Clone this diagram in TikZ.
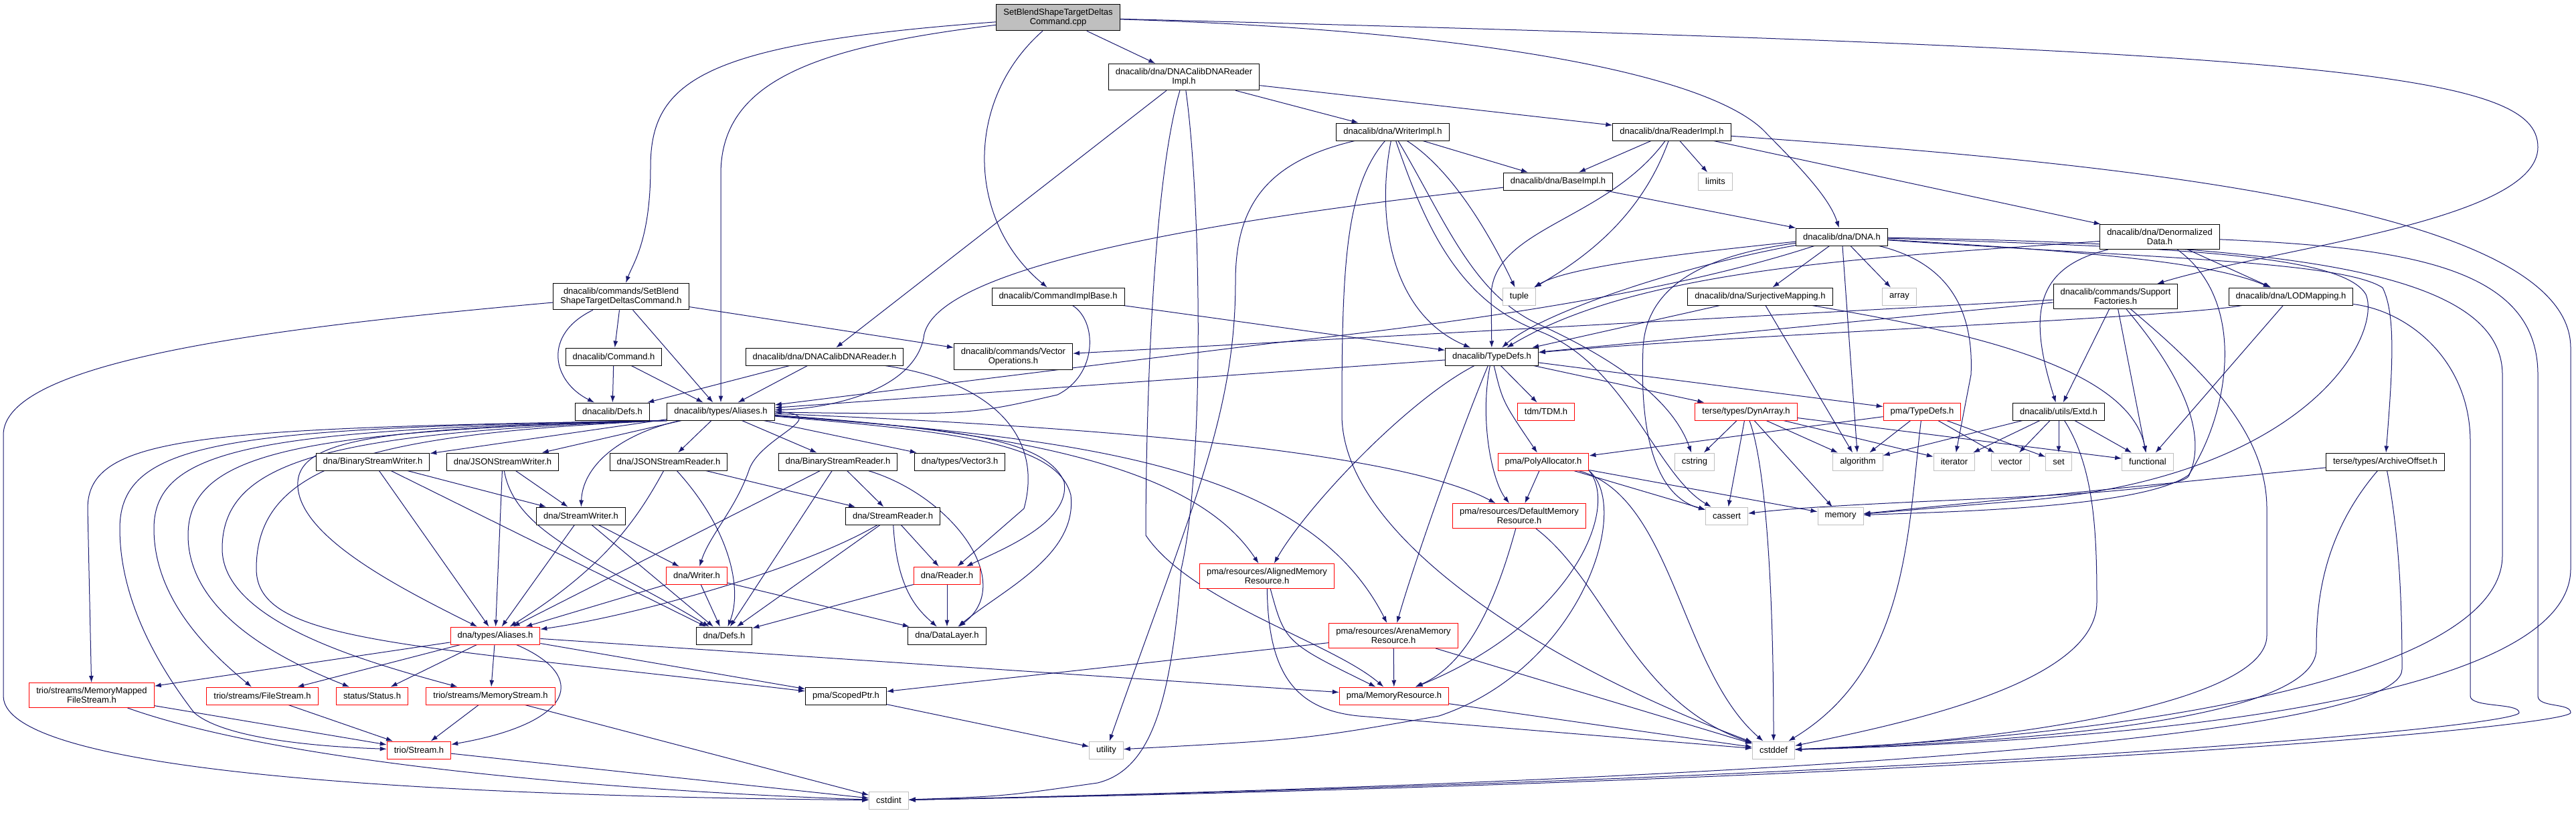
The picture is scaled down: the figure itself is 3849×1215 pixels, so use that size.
\documentclass[tikz,border=0pt]{standalone}
\usepackage{fontspec}
\newfontfamily\doxfont{Liberation Sans}
\usetikzlibrary{arrows.meta,backgrounds}
\definecolor{edgeblue}{HTML}{191970}
\definecolor{sysgray}{HTML}{BFBFBF}
\tikzset{
  hdr/.style={draw=black, fill=white, line width=1pt, font=\doxfont\fontsize{13}{14.5}\selectfont,
    align=center, inner xsep=10.5pt, inner ysep=6.5pt, minimum height=26pt},
  redhdr/.style={hdr, draw=red},
  syshdr/.style={hdr, draw=sysgray},
  roothdr/.style={hdr, fill=sysgray},
  dep/.style={draw=edgeblue, line width=1pt, -{Latex[length=10pt,width=7pt]}}
}
\begin{document}
\begin{tikzpicture}[x=1pt, y=-1pt]
  \useasboundingbox (0,0) rectangle (3849,1215);

  % Top rows
  \node[roothdr] (root) at (1581,26) {SetBlendShapeTargetDeltas\\Command.cpp};
  \node[hdr] (readerimpl) at (1769,115) {dnacalib/dna/DNACalibDNAReader\\Impl.h};
  \node[hdr] (writerimpl) at (2081,197) {dnacalib/dna/WriterImpl.h};
  \node[hdr] (dnareaderimpl) at (2498,197) {dnacalib/dna/ReaderImpl.h};
  \node[hdr] (baseimpl) at (2328,271) {dnacalib/dna/BaseImpl.h};
  \node[syshdr] (limits) at (2563,271) {limits};
  \node[hdr] (dna) at (2752,354) {dnacalib/dna/DNA.h};
  \node[hdr] (denorm) at (3227,354) {dnacalib/dna/Denormalized\\Data.h};

  % dnacalib headers
  \node[hdr] (sbcmdh) at (928,443) {dnacalib/commands/SetBlend\\ShapeTargetDeltasCommand.h};
  \node[hdr] (cmdimpl) at (1581,443) {dnacalib/CommandImplBase.h};
  \node[syshdr] (tuple) at (2270,443) {tuple};
  \node[hdr] (surj) at (2630,443) {dnacalib/dna/SurjectiveMapping.h};
  \node[syshdr] (array) at (2838,443) {array};
  \node[hdr] (support) at (3161,443) {dnacalib/commands/Support\\Factories.h};
  \node[hdr] (lod) at (3423,443) {dnacalib/dna/LODMapping.h};
  \node[hdr] (cmdh) at (917,533) {dnacalib/Command.h};
  \node[hdr] (readerh) at (1232,533) {dnacalib/dna/DNACalibDNAReader.h};
  \node[hdr] (vecops) at (1514,533) {dnacalib/commands/Vector\\Operations.h};
  \node[hdr] (typedefs) at (2229,533) {dnacalib/TypeDefs.h};
  \node[hdr] (cdefs) at (915,615) {dnacalib/Defs.h};
  \node[hdr] (caliases) at (1077,615) {dnacalib/types/Aliases.h};
  \node[redhdr] (tdm) at (2310,615) {tdm/TDM.h};
  \node[redhdr] (dynarr) at (2609,615) {terse/types/DynArray.h};
  \node[redhdr] (pmatd) at (2872,615) {pma/TypeDefs.h};
  \node[hdr] (extd) at (3076,615) {dnacalib/utils/Extd.h};

  % dna headers
  \node[hdr] (bsw) at (557,690) {dna/BinaryStreamWriter.h};
  \node[hdr] (jsw) at (751,690) {dna/JSONStreamWriter.h};
  \node[hdr] (jsr) at (999,690) {dna/JSONStreamReader.h};
  \node[hdr] (bsr) at (1252,690) {dna/BinaryStreamReader.h};
  \node[hdr] (vec3) at (1434,690) {dna/types/Vector3.h};
  \node[redhdr] (poly) at (2306,690) {pma/PolyAllocator.h};
  \node[syshdr] (cstring) at (2532,690) {cstring};
  \node[syshdr] (algorithm) at (2776,690) {algorithm};
  \node[syshdr] (iterator) at (2920,690) {iterator};
  \node[syshdr] (vector) at (3004,690) {vector};
  \node[syshdr] (set) at (3076,690) {set};
  \node[syshdr] (functional) at (3209,690) {functional};
  \node[hdr] (archive) at (3564,690) {terse/types/ArchiveOffset.h};
  \node[hdr] (sw) at (868,771) {dna/StreamWriter.h};
  \node[hdr] (sr) at (1334,771) {dna/StreamReader.h};
  \node[redhdr] (defmem) at (2270,771) {pma/resources/DefaultMemory\\Resource.h};
  \node[syshdr] (cassert) at (2580,771) {cassert};
  \node[syshdr] (memory) at (2750,771) {memory};
  \node[redhdr] (writer) at (1041,860) {dna/Writer.h};
  \node[redhdr] (reader) at (1415,860) {dna/Reader.h};
  \node[redhdr] (aligned) at (1893,861) {pma/resources/AlignedMemory\\Resource.h};
  \node[redhdr] (daliases) at (740,950) {dna/types/Aliases.h};
  \node[hdr] (ddefs) at (1082,950) {dna/Defs.h};
  \node[hdr] (layer) at (1415,950) {dna/DataLayer.h};
  \node[redhdr] (arena) at (2082,950) {pma/resources/ArenaMemory\\Resource.h};

  % Bottom rows
  \node[redhdr] (mmfs) at (137,1039) {trio/streams/MemoryMapped\\FileStream.h};
  \node[redhdr] (fs) at (392,1040) {trio/streams/FileStream.h};
  \node[redhdr] (status) at (556,1040) {status/Status.h};
  \node[redhdr] (ms) at (733,1040) {trio/streams/MemoryStream.h};
  \node[hdr] (scoped) at (1264,1040) {pma/ScopedPtr.h};
  \node[redhdr] (memres) at (2083,1040) {pma/MemoryResource.h};
  \node[redhdr] (stream) at (626,1121) {trio/Stream.h};
  \node[syshdr] (utility) at (1653,1121) {utility};
  \node[syshdr] (cstddef) at (2650,1121) {cstddef};
  \node[syshdr] (cstdint) at (1328,1196) {cstdint};

  \begin{scope}[on background layer]
  \fill[white] (0,0) rectangle (3849,1215);

  % Root file
  \draw[dep] (root) .. controls (1050,65) and (972,120) .. (972,250) .. controls (972,360) and (945,395) .. (sbcmdh);
  \draw[dep] (root) .. controls (1220,70) and (1077,120) .. (1077,260) -- (caliases);
  \draw[dep] (root) .. controls (1440,150) and (1444,330) .. (cmdimpl);
  \draw[dep] (root) -- (readerimpl);
  \draw[dep] (root) .. controls (2200,45) and (2560,110) .. (2640,200) .. controls (2700,260) and (2735,300) .. (dna);
  \draw[dep] (root) .. controls (3500,75) and (3792,110) .. (3792,220) .. controls (3792,330) and (3400,370) .. (support);

  % SetBlendShapeTargetDeltasCommand.h
  \draw[dep] (sbcmdh) -- (cmdh);
  \draw[dep] (sbcmdh) .. controls (810,500) and (825,570) .. (cdefs);
  \draw[dep] (sbcmdh) -- (caliases);
  \draw[dep] (sbcmdh) -- (vecops);
  \draw[dep] (sbcmdh) .. controls (400,490) and (5,540) .. (5,650) -- (5,1040) .. controls (5,1160) and (700,1190) .. (cstdint);
  \draw[dep] (cmdh) -- (cdefs);
  \draw[dep] (cmdh) -- (caliases);

  % DNACalibDNAReader.h and CommandImplBase.h
  \draw[dep] (readerh) -- (cdefs);
  \draw[dep] (readerh) -- (caliases);
  \draw[dep] (readerh) .. controls (1480,570) and (1560,650) .. (1530,760) -- (reader);
  \draw[dep] (cmdimpl) -- (typedefs);
  \draw[dep] (cmdimpl) .. controls (1640,480) and (1640,560) .. (1580,590) .. controls (1450,620) .. (caliases);

  % DNACalibDNAReaderImpl.h
  \draw[dep] (readerimpl) -- (readerh);
  \draw[dep] (readerimpl) -- (writerimpl);
  \draw[dep] (readerimpl) -- (dnareaderimpl);
  \draw[dep] (readerimpl) .. controls (1720,280) and (1712,650) .. (1712,800) .. controls (1780,900) and (1990,960) .. (memres);
  \draw[dep] (readerimpl) .. controls (1795,300) and (1800,700) .. (1765,850) .. controls (1750,1050) and (1720,1150) .. (1640,1170) .. controls (1500,1190) .. (cstdint);

  % WriterImpl.h
  \draw[dep] (writerimpl) -- (baseimpl);
  \draw[dep] (writerimpl) .. controls (2180,260) and (2240,380) .. (tuple);
  \draw[dep] (writerimpl) .. controls (2055,330) and (2080,470) .. (typedefs);
  \draw[dep] (writerimpl) .. controls (2130,340) and (2180,450) .. (2300,495) .. controls (2430,545) and (2475,710) .. (cassert);
  \draw[dep] (writerimpl) .. controls (2160,330) and (2200,440) .. (2300,485) .. controls (2420,540) and (2500,600) .. (cstring);
  \draw[dep] (writerimpl) .. controls (2010,280) and (2005,400) .. (2005,620) .. controls (2005,800) and (2300,990) .. (cstddef);
  \draw[dep] (writerimpl) .. controls (1900,240) and (1846,300) .. (1846,420) .. controls (1846,620) and (1780,760) .. (utility);

  % ReaderImpl.h
  \draw[dep] (dnareaderimpl) -- (baseimpl);
  \draw[dep] (dnareaderimpl) .. controls (2400,330) and (2232,340) .. (2228,440) -- (typedefs);
  \draw[dep] (dnareaderimpl) .. controls (2450,330) and (2360,390) .. (tuple);
  \draw[dep] (dnareaderimpl) -- (limits);
  \draw[dep] (dnareaderimpl) -- (denorm);
  \draw[dep] (dnareaderimpl) .. controls (3100,240) and (3841,300) .. (3841,520) -- (3841,850) .. controls (3841,1060) and (3100,1110) .. (cstddef);

  % BaseImpl.h
  \draw[dep] (baseimpl) -- (dna);
  \draw[dep] (baseimpl) .. controls (1800,330) and (1390,400) .. (1380,505) .. controls (1365,580) and (1250,610) .. (caliases);

  % DNA.h
  \draw[dep] (dna) .. controls (2550,420) and (2300,470) .. (1900,513) -- (caliases);
  \draw[dep] (dna) .. controls (2500,400) and (2300,470) .. (typedefs);
  \draw[dep] (dna) .. controls (2500,380) and (2340,400) .. (tuple);
  \draw[dep] (dna) .. controls (2560,380) and (2460,420) .. (2455,520) .. controls (2450,640) and (2470,740) .. (cassert);
  \draw[dep] (dna) -- (surj);
  \draw[dep] (dna) -- (algorithm);
  \draw[dep] (dna) -- (array);
  \draw[dep] (dna) .. controls (2900,390) and (2950,450) .. (2945,560) -- (iterator);
  \draw[dep] (dna) .. controls (3100,375) and (3300,390) .. (lod);
  \draw[dep] (dna) .. controls (3200,385) and (3500,390) .. (3560,430) .. controls (3580,470) and (3575,550) .. (archive);
  \draw[dep] (dna) .. controls (3250,370) and (3500,380) .. (3535,440) .. controls (3560,500) and (3450,720) .. (3000,750) -- (memory);
  \draw[dep] (dna) .. controls (3400,365) and (3739,400) .. (3739,560) -- (3739,830) .. controls (3739,1010) and (3200,1100) .. (cstddef);

  % DenormalizedData.h
  \draw[dep] (denorm) .. controls (2800,385) and (2450,400) .. (typedefs);
  \draw[dep] (denorm) -- (lod);
  \draw[dep] (denorm) .. controls (3040,400) and (3030,470) .. (extd);
  \draw[dep] (denorm) .. controls (3360,450) and (3330,620) .. (3270,710) .. controls (3200,760) and (2900,765) .. (memory);
  \draw[dep] (denorm) .. controls (3600,370) and (3792,400) .. (3792,560) -- (3792,1040) .. controls (3792,1058) and (3841,1050) .. (3841,1065) .. controls (3841,1085) and (3000,1165) .. (cstdint);

  % LODMapping.h and SupportFactories.h
  \draw[dep] (lod) .. controls (3250,475) and (2600,500) .. (typedefs);
  \draw[dep] (lod) -- (functional);
  \draw[dep] (lod) .. controls (3600,465) and (3691,540) .. (3691,660) -- (3691,1040) .. controls (3691,1058) and (3764,1050) .. (3764,1065) .. controls (3764,1085) and (3000,1160) .. (cstdint);
  \draw[dep] (support) -- (typedefs);
  \draw[dep] (support) -- (vecops);
  \draw[dep] (support) -- (extd);
  \draw[dep] (support) -- (functional);
  \draw[dep] (support) .. controls (3260,560) and (3300,650) .. (3270,712) .. controls (3240,745) and (2800,745) .. (cassert);
  \draw[dep] (support) .. controls (3300,560) and (3387,650) .. (3387,760) -- (3387,950) .. controls (3387,1050) and (3000,1110) .. (cstddef);

  % SurjectiveMapping.h
  \draw[dep] (surj) -- (typedefs);
  \draw[dep] (surj) -- (algorithm);
  \draw[dep] (surj) .. controls (2900,490) and (3180,540) .. (functional);

  % dnacalib/TypeDefs.h
  \draw[dep] (typedefs) -- (caliases);
  \draw[dep] (typedefs) -- (tdm);
  \draw[dep] (typedefs) .. controls (2245,600) .. (poly);
  \draw[dep] (typedefs) .. controls (2210,630) and (2230,720) .. (defmem);
  \draw[dep] (typedefs) -- (dynarr);
  \draw[dep] (typedefs) -- (pmatd);
  \draw[dep] (typedefs) .. controls (2100,600) and (1950,760) .. (aligned);
  \draw[dep] (typedefs) .. controls (2180,650) and (2110,850) .. (arena);

  % dnacalib/types/Aliases.h
  \draw[dep] (caliases) -- (bsw);
  \draw[dep] (caliases) -- (jsw);
  \draw[dep] (caliases) -- (jsr);
  \draw[dep] (caliases) -- (bsr);
  \draw[dep] (caliases) -- (vec3);
  \draw[dep] (caliases) .. controls (920,650) and (870,700) .. (sw);
  \draw[dep] (caliases.south west) .. controls (300,640) and (131,650) .. (131,760) -- (mmfs);
  \draw[dep] (caliases.south west) .. controls (350,640) and (179,655) .. (179,790) .. controls (179,900) and (240,1000) .. (290,1065) .. controls (330,1100) and (450,1115) .. (stream);
  \draw[dep] (caliases.south west) .. controls (400,642) and (230,665) .. (230,790) .. controls (230,900) and (320,980) .. (fs);
  \draw[dep] (caliases.south west) .. controls (450,644) and (281,675) .. (281,800) .. controls (281,920) and (430,990) .. (status);
  \draw[dep] (caliases.south west) .. controls (500,646) and (332,685) .. (332,820) .. controls (332,930) and (550,990) .. (ms);
  \draw[dep] (caliases.south west) .. controls (550,648) and (383,695) .. (383,850) .. controls (383,960) and (600,962) .. (scoped);
  \draw[dep] (caliases.south west) .. controls (600,640) and (450,650) .. (445,720) .. controls (440,800) and (600,880) .. (daliases);
  \draw[dep] (caliases.east) .. controls (1250,620) and (1140,650) .. (1120,700) .. controls (1100,760) and (1060,800) .. (writer);
  \draw[dep] (caliases) .. controls (1400,640) and (1560,650) .. (1590,720) .. controls (1600,780) and (1500,820) .. (reader);
  \draw[dep] (caliases) .. controls (1420,645) and (1580,660) .. (1600,740) .. controls (1610,830) and (1500,880) .. (layer);
  \draw[dep] (caliases) .. controls (1600,650) and (1800,720) .. (aligned);
  \draw[dep] (caliases) .. controls (1600,655) and (1950,690) .. (arena);
  \draw[dep] (caliases) .. controls (1700,640) and (2100,680) .. (defmem);

  % dna/types/Aliases.h and trio streams
  \draw[dep] (daliases) -- (mmfs);
  \draw[dep] (daliases) -- (fs);
  \draw[dep] (daliases) -- (status);
  \draw[dep] (daliases) -- (ms);
  \draw[dep] (daliases) .. controls (880,1010) and (860,1080) .. (stream);
  \draw[dep] (daliases) -- (memres);
  \draw[dep] (daliases) -- (scoped);
  \draw[dep] (mmfs) -- (stream);
  \draw[dep] (mmfs) .. controls (450,1150) and (1000,1185) .. (cstdint);
  \draw[dep] (fs) -- (stream);
  \draw[dep] (ms) -- (stream);
  \draw[dep] (ms) -- (cstdint);
  \draw[dep] (stream) -- (cstdint);

  % dna streams, readers and writers
  \draw[dep] (bsw) -- (sw);
  \draw[dep] (bsw) -- (daliases);
  \draw[dep] (bsw) -- (ddefs);
  \draw[dep] (jsw) -- (sw);
  \draw[dep] (jsw) -- (daliases);
  \draw[dep] (jsw) .. controls (770,800) and (900,840) .. (ddefs);
  \draw[dep] (jsr) -- (sr);
  \draw[dep] (jsr) .. controls (950,780) and (900,850) .. (daliases);
  \draw[dep] (jsr) .. controls (1090,790) and (1110,880) .. (ddefs);
  \draw[dep] (bsr) -- (sr);
  \draw[dep] (bsr) -- (daliases);
  \draw[dep] (bsr) -- (ddefs);
  \draw[dep] (bsr) .. controls (1420,740) and (1520,870) .. (layer);
  \draw[dep] (sw) -- (writer);
  \draw[dep] (sw) -- (ddefs);
  \draw[dep] (sw) -- (daliases);
  \draw[dep] (sr) -- (reader);
  \draw[dep] (sr) .. controls (1340,880) and (1370,910) .. (layer);
  \draw[dep] (sr) -- (ddefs);
  \draw[dep] (sr) .. controls (1200,850) and (950,920) .. (daliases);
  \draw[dep] (writer) -- (ddefs);
  \draw[dep] (writer) -- (layer);
  \draw[dep] (writer) -- (daliases);
  \draw[dep] (reader) -- (ddefs);
  \draw[dep] (reader) -- (layer);

  % pma headers
  \draw[dep] (scoped) -- (utility);
  \draw[dep] (poly) -- (defmem);
  \draw[dep] (poly.south east) .. controls (2420,760) and (2350,930) .. (memres);
  \draw[dep] (poly.south east) .. controls (2440,760) and (2360,1000) .. (2150,1070) .. controls (1950,1105) .. (utility);
  \draw[dep] (poly) -- (cassert);
  \draw[dep] (poly) -- (memory);
  \draw[dep] (poly) .. controls (2500,740) and (2510,1000) .. (cstddef);
  \draw[dep] (defmem) .. controls (2240,880) and (2200,990) .. (memres);
  \draw[dep] (defmem) .. controls (2400,870) and (2440,1050) .. (cstddef);
  \draw[dep] (aligned) .. controls (1920,960) .. (memres);
  \draw[dep] (aligned) .. controls (1895,1000) and (1930,1060) .. (2030,1070) -- (cstddef);
  \draw[dep] (arena) -- (memres);
  \draw[dep] (arena) -- (cstddef);
  \draw[dep] (arena) -- (scoped);
  \draw[dep] (memres) -- (cstddef);
  \draw[dep] (pmatd) -- (poly);
  \draw[dep] (pmatd) -- (vector);
  \draw[dep] (pmatd) -- (set);
  \draw[dep] (pmatd) -- (algorithm);
  \draw[dep] (pmatd) .. controls (2850,800) and (2850,1000) .. (cstddef);

  % terse and utils headers
  \draw[dep] (dynarr) -- (cstring);
  \draw[dep] (dynarr) -- (cassert);
  \draw[dep] (dynarr) -- (memory);
  \draw[dep] (dynarr) -- (algorithm);
  \draw[dep] (dynarr) -- (iterator);
  \draw[dep] (dynarr) -- (functional);
  \draw[dep] (dynarr) .. controls (2640,700) and (2650,900) .. (cstddef);
  \draw[dep] (extd) -- (iterator);
  \draw[dep] (extd) -- (vector);
  \draw[dep] (extd) -- (set);
  \draw[dep] (extd) -- (functional);
  \draw[dep] (extd) -- (algorithm);
  \draw[dep] (extd) .. controls (3130,700) and (3133,800) .. (3133,900) .. controls (3133,1020) and (2850,1080) .. (cstddef);
  \draw[dep] (archive) -- (memory);
  \draw[dep] (archive) .. controls (3470,800) and (3461,900) .. (3461,970) .. controls (3461,1080) and (3000,1110) .. (cstddef);
  \draw[dep] (archive) .. controls (3585,800) and (3589,900) .. (3589,1000) .. controls (3589,1110) and (2500,1170) .. (cstdint);
  \end{scope}
\end{tikzpicture}
\end{document}
